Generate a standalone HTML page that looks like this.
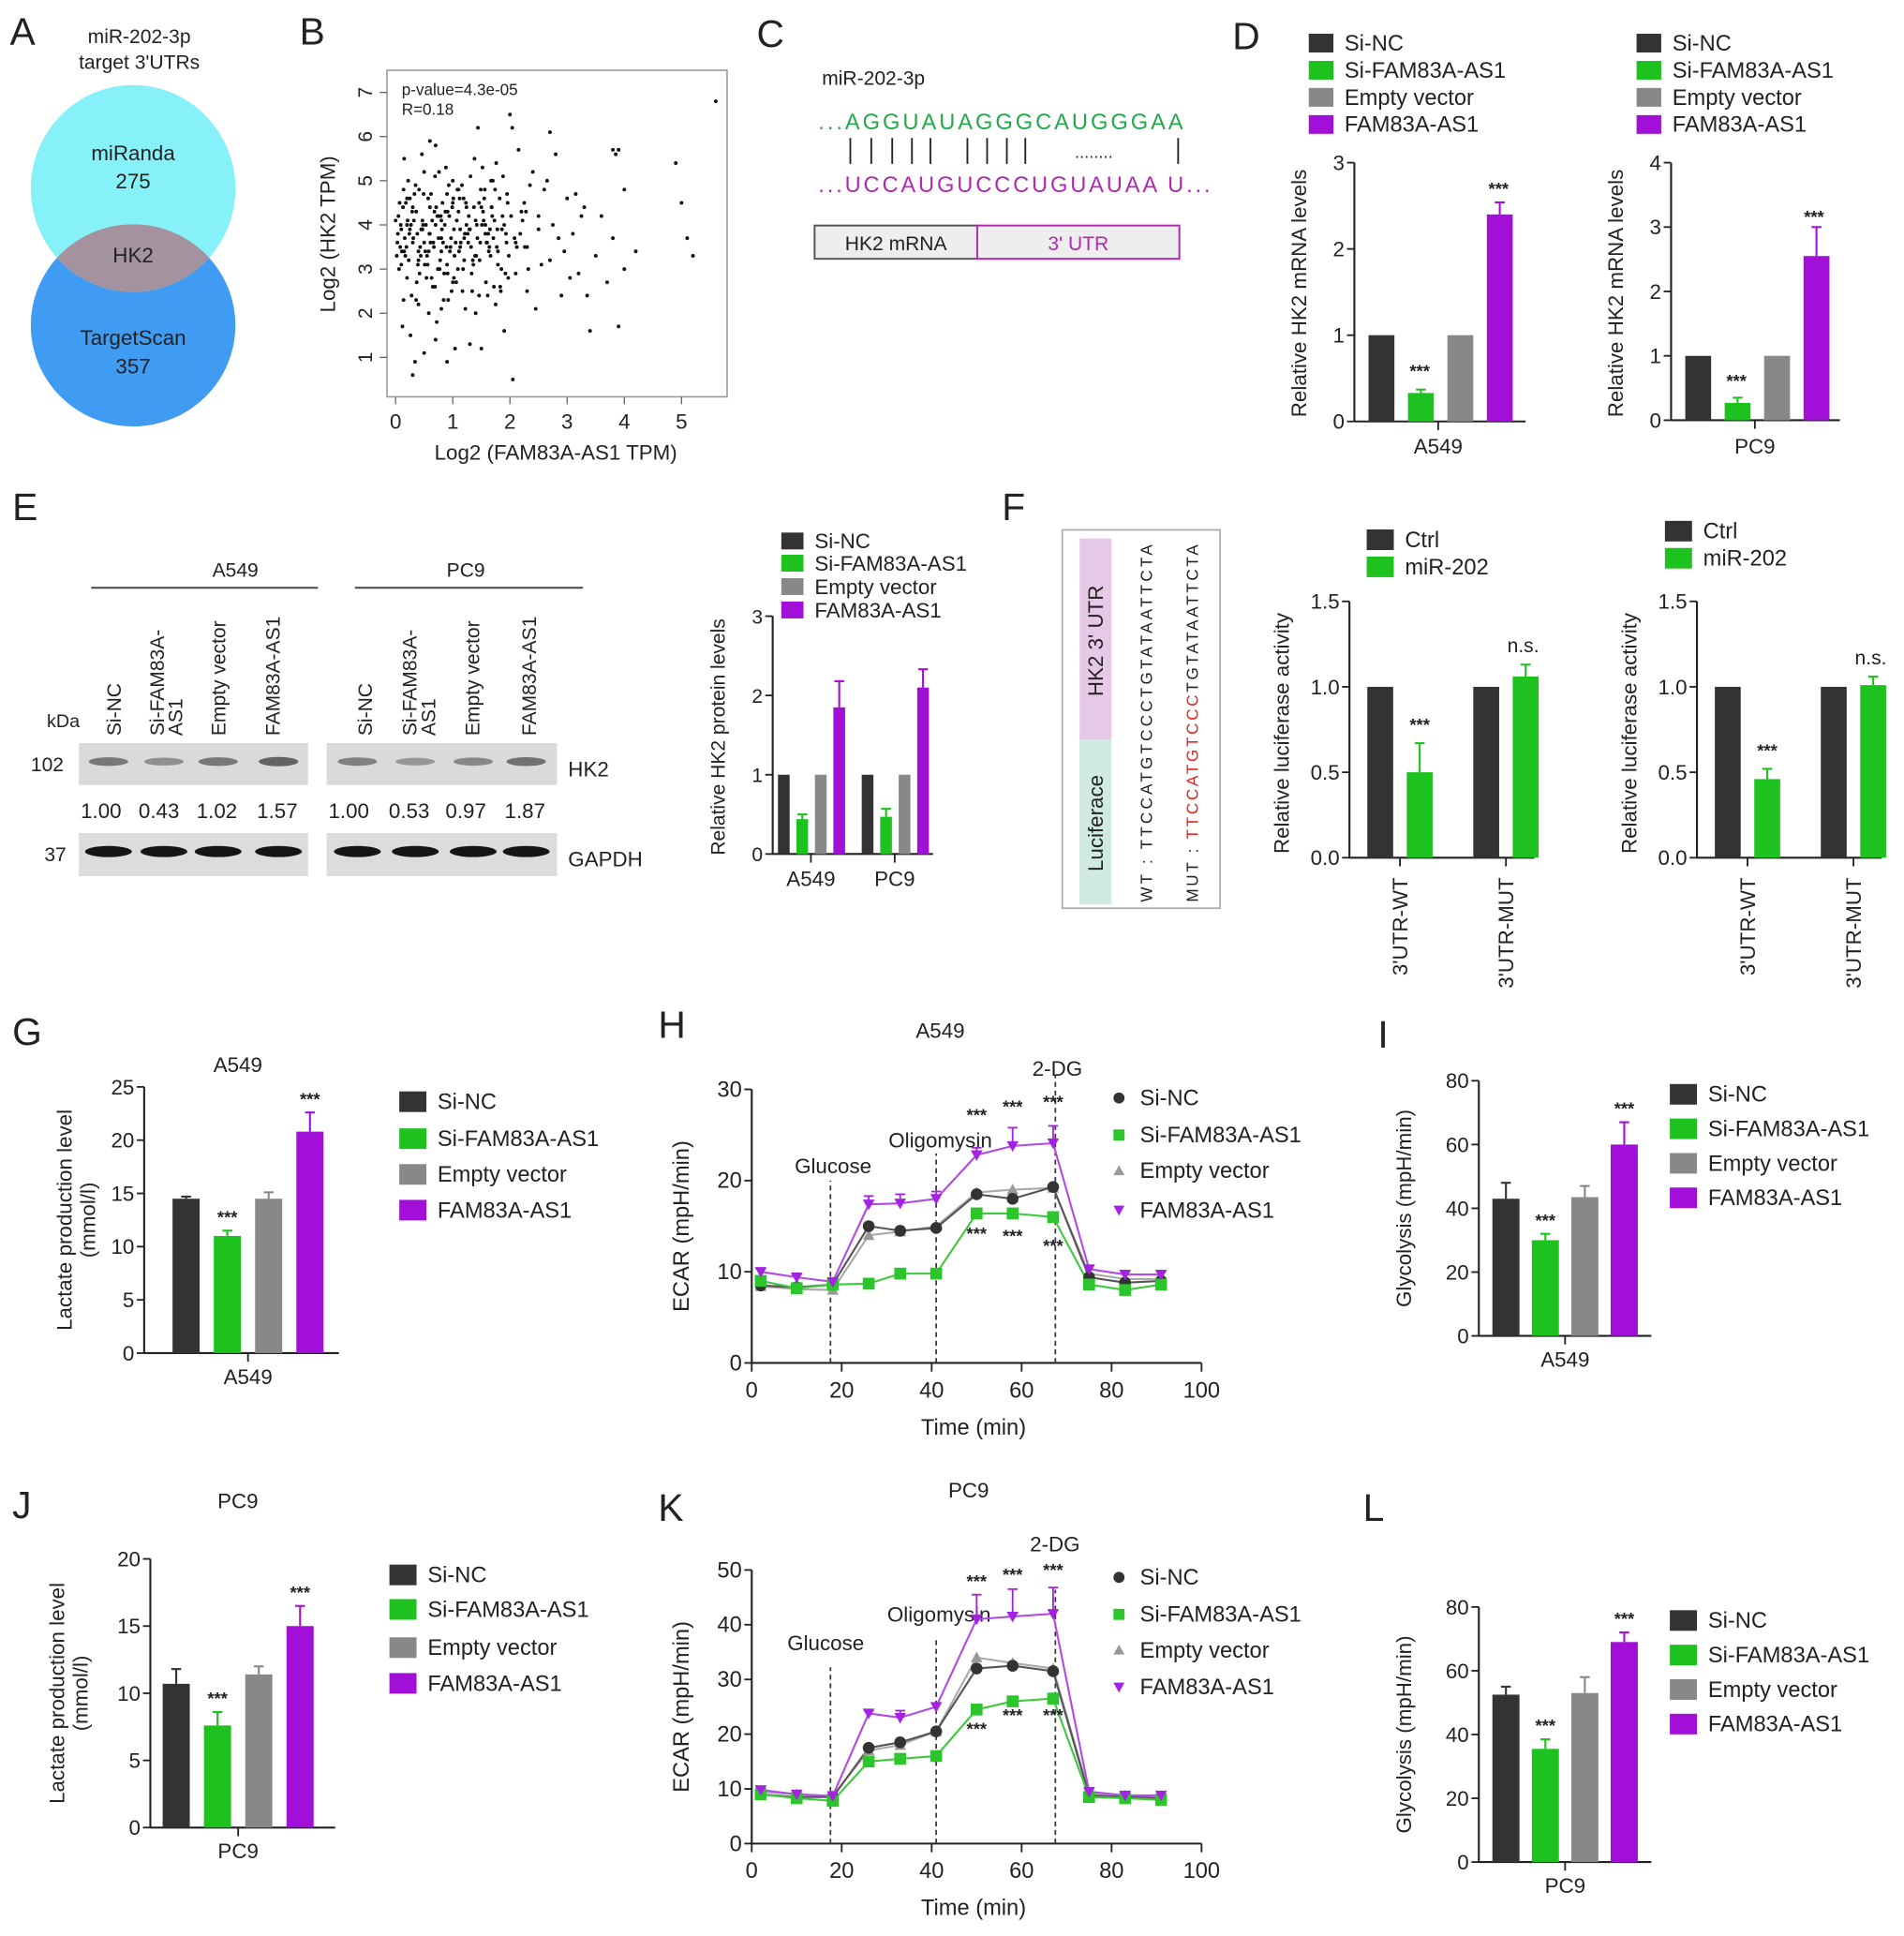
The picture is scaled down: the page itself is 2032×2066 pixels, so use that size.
<!DOCTYPE html>
<html><head><meta charset="utf-8">
<style>
html,body{margin:0;padding:0;background:#fff;}
svg{display:block;font-family:"Liberation Sans",Arial,sans-serif;}
text{fill:#222;}
</style></head>
<body>
<svg id="fig" width="2032" height="2066" viewBox="0 0 1545 1571" preserveAspectRatio="none" xmlns="http://www.w3.org/2000/svg">
<rect x="0" y="0" width="1545" height="1571" fill="#fff"/>

<g font-size="31">
<text x="8" y="36">A</text>
<text x="243" y="36">B</text>
<text x="614" y="38">C</text>
<text x="1000" y="40">D</text>
<text x="10" y="422">E</text>
<text x="813" y="422">F</text>
<text x="10" y="848">G</text>
<text x="534" y="842">H</text>
<text x="1118" y="850">I</text>
<text x="10" y="1232">J</text>
<text x="534" y="1234">K</text>
<text x="1106" y="1234">L</text>
</g>

<g>
<text x="113" y="35" font-size="16" text-anchor="middle">miR-202-3p</text>
<text x="113" y="56" font-size="16" text-anchor="middle">target 3'UTRs</text>
<ellipse cx="108" cy="264" rx="83" ry="82" fill="#3f9cf2"/>
<ellipse cx="108" cy="153" rx="83" ry="84" fill="#86f1f9"/>
<clipPath id="clipTop"><ellipse cx="108" cy="153" rx="83" ry="84"/></clipPath>
<ellipse cx="108" cy="264" rx="83" ry="82" fill="#a4939f" clip-path="url(#clipTop)"/>
<text x="108" y="130" font-size="17" text-anchor="middle">miRanda</text>
<text x="108" y="153" font-size="17" text-anchor="middle">275</text>
<text x="108" y="213" font-size="17" text-anchor="middle">HK2</text>
<text x="108" y="280" font-size="17" text-anchor="middle">TargetScan</text>
<text x="108" y="303" font-size="17" text-anchor="middle">357</text>
</g>

<g id="scatter">
<rect x="314" y="57" width="276" height="265" fill="none" stroke="#999" stroke-width="1.2"/>
<text x="326" y="77" font-size="13">p-value=4.3e-05</text>
<text x="326" y="93" font-size="13">R=0.18</text>
<text x="451" y="373" font-size="17" text-anchor="middle">Log2 (FAM83A-AS1 TPM)</text>
<text transform="translate(272,190) rotate(-90)" font-size="17" text-anchor="middle">Log2 (HK2 TPM)</text>
</g>

<g>
<text x="667" y="69" font-size="16">miR-202-3p</text>
<text x="664" y="105" font-size="18" style="fill:#22a84a" textLength="296">...AGGUAUAGGGCAUGGGAA</text>
<g stroke="#222" stroke-width="1.4">
<line x1="690" y1="112" x2="690" y2="133"/><line x1="707" y1="112" x2="707" y2="133"/><line x1="724" y1="112" x2="724" y2="133"/><line x1="740" y1="112" x2="740" y2="133"/><line x1="755" y1="112" x2="755" y2="133"/><line x1="785" y1="112" x2="785" y2="133"/><line x1="801" y1="112" x2="801" y2="133"/><line x1="817" y1="112" x2="817" y2="133"/><line x1="832" y1="112" x2="832" y2="133"/><line x1="956" y1="112" x2="956" y2="133"/>
</g>
<text x="872" y="128" font-size="14">........</text>
<text x="664" y="156" font-size="18" style="fill:#b02ab0" textLength="318">...UCCAUGUCCCUGUAUAA U...</text>
<rect x="661" y="183" width="132" height="27" fill="#eee" stroke="#555" stroke-width="1.5"/>
<rect x="793" y="183" width="164" height="27" fill="#eee" stroke="#b02ab0" stroke-width="1.5"/>
<text x="727" y="203" font-size="16" text-anchor="middle">HK2 mRNA</text>
<text x="875" y="203" font-size="16" text-anchor="middle" style="fill:#b02ab0">3' UTR</text>
</g>

<g>
<text x="191" y="468" font-size="16" text-anchor="middle">A549</text>
<line x1="74" y1="477" x2="258" y2="477" stroke="#444" stroke-width="1.5"/>
<text x="378" y="468" font-size="16" text-anchor="middle">PC9</text>
<line x1="288" y1="477" x2="473" y2="477" stroke="#444" stroke-width="1.5"/>
<text x="38" y="590" font-size="15">kDa</text>
<text x="25" y="626" font-size="16">102</text>
<text x="36" y="699" font-size="16">37</text>
<text x="461" y="630" font-size="17">HK2</text>
<text x="461" y="703" font-size="17">GAPDH</text>
<g id="lanes" font-size="15"></g>
<g id="blots"></g>
</g>

<g>
<rect x="862" y="430" width="128" height="307" fill="#fff" stroke="#aaa" stroke-width="1.3"/>
<rect x="876" y="437" width="26" height="163" fill="#e6c9e6"/>
<rect x="876" y="600" width="26" height="134" fill="#cfeadf"/>
<text transform="translate(895,520) rotate(-90)" font-size="17" text-anchor="middle">HK2 3' UTR</text>
<text transform="translate(895,668) rotate(-90)" font-size="17" text-anchor="middle">Luciferace</text>
<text transform="translate(935,732) rotate(-90)" font-size="13" textLength="290">WT :  TTCCATGTCCCTGTATAATTCTA</text>
<text transform="translate(972,732) rotate(-90)" font-size="13" textLength="290">MUT :  <tspan style="fill:#e8241c">TTCCATGTCCC</tspan>TGTATAATTCTA</text>
</g>

<g id="charts"></g>
</svg>

<script>
// ---------- DATA ----------
const scatterX = [0.05,0.1,0.15,0.2,0.25,0.3,0.35,0.4,0.45,0.5,0.55,0.6,0.65,0.7,0.75,0.8,0.85,0.9,0.95,1.0,
0.08,0.18,0.28,0.38,0.48,0.58,0.68,0.78,0.88,0.98,1.08,1.18,1.28,1.38,1.48,1.58,1.68,1.78,1.88,1.98,
0.12,0.22,0.32,0.42,0.52,0.62,0.72,0.82,0.92,1.02,1.12,1.22,1.32,1.42,1.52,1.62,1.72,1.82,1.92,2.02,
0.06,0.16,0.26,0.36,0.46,0.56,0.66,0.76,0.86,0.96,1.06,1.16,1.26,1.36,1.46,1.56,1.66,1.76,1.86,1.96,
2.1,2.2,2.3,2.4,2.5,2.6,2.7,2.8,2.9,3.0,3.1,3.2,3.3,3.4,3.5,3.6,3.7,3.8,3.9,4.0,
0.14,0.24,0.34,0.44,0.54,0.64,0.74,0.84,0.94,1.04,1.14,1.24,1.34,1.44,1.54,1.64,1.74,1.84,1.94,2.04,
0.3,0.5,0.7,0.9,1.1,1.3,1.5,1.7,1.9,2.1,2.3,2.5,2.7,0.2,0.4,0.6,0.8,1.0,1.2,1.4,
2.15,2.35,2.55,2.75,2.95,3.15,3.35,2.05,2.25,2.45,2.65,2.85,3.05,3.25,1.55,1.65,1.75,1.85,1.95,2.0,
3.8,3.85,4.0,4.2,4.9,5.0,5.1,5.2,5.6,3.9,0.0,0.02,
0.1,0.3,0.5,0.7,0.9,1.1,1.3,1.5,0.2,0.4,0.6,0.8,1.0,1.2,1.4,1.6,0.15,0.45,0.75,1.05,
0.04,0.13,0.23,0.33,0.43,0.53,0.63,0.73,0.83,0.93,1.03,1.13,1.23,1.33,1.43,1.53,1.63,1.73,1.83,1.93,
0.07,0.17,0.27,0.37,0.47,0.57,0.67,0.77,0.87,0.97,1.07,1.17,1.27,1.37,1.47,1.57,1.67,1.77,1.87,1.97,
0.11,0.21,0.31,0.41,0.51,0.61,0.71,0.81,0.91,1.01,1.11,1.21,1.31,1.41,1.51,1.61,1.71,2.12,2.22,2.32,
0.09,0.19,0.29,0.39,0.49,0.59,0.69,0.79,0.89,0.99,1.09,1.19,1.29,1.39,1.49,1.59,1.69,1.79,2.18,2.28,
0.03,0.14,0.25,0.36,0.47,0.58,0.69,0.8,0.91,1.02,1.13,1.24,1.35,1.46,1.57,1.68,1.79,1.9,2.08,2.26];
const scatterY = [4.2,3.1,5.5,2.8,4.6,3.6,4.9,2.2,3.9,5.2,3.3,4.4,2.6,5.8,3.7,4.1,2.9,4.7,3.4,5.0,
3.5,4.5,2.4,3.8,4.0,2.0,4.3,3.2,5.3,2.5,4.8,3.0,4.2,5.5,3.6,2.7,4.4,3.9,5.1,3.3,
1.7,5.0,4.1,2.9,3.4,4.7,1.8,4.5,2.3,3.9,4.6,2.1,3.5,4.0,5.3,3.8,2.6,4.6,2.9,4.2,
3.0,3.7,1.5,4.3,5.6,3.1,3.6,5.2,4.0,3.5,2.7,4.9,3.8,3.1,2.4,4.8,3.3,5.4,3.9,4.5,
3.6,4.3,2.5,5.2,3.9,4.8,3.2,5.6,2.4,4.6,3.8,2.9,4.4,1.6,3.3,4.2,2.7,3.7,5.7,3.0,
2.3,3.8,0.9,3.3,2.8,4.1,3.0,2.3,4.2,1.2,3.6,4.4,2.5,6.2,4.1,3.5,4.8,2.5,3.6,6.2,
0.6,1.1,1.4,0.9,4.8,1.3,1.2,5.0,1.6,2.9,3.5,4.2,6.1,4.0,3.4,5.9,2.1,2.7,3.2,2.0,
5.7,4.9,3.1,4.0,3.4,4.7,2.4,0.5,4.5,2.1,5.0,3.7,2.8,4.2,4.6,3.9,2.2,3.0,4.7,6.5,
5.7,5.6,4.8,3.4,5.4,4.5,3.7,3.3,6.8,1.7,4.1,3.3,
3.9,4.4,3.6,4.0,3.1,4.3,3.9,4.4,4.6,3.2,3.8,3.4,4.5,3.7,4.1,3.6,3.4,3.9,4.2,3.6,
3.8,4.4,3.2,4.7,3.5,4.0,2.8,4.2,3.6,4.9,3.3,3.9,4.5,2.9,3.7,4.3,3.4,4.1,2.6,3.8,
4.5,3.3,4.0,2.7,3.9,4.6,3.5,3.0,4.3,3.7,4.1,2.5,3.6,4.4,3.2,4.0,5.0,3.5,4.2,2.8,
3.4,4.1,3.7,4.8,3.1,3.6,4.4,3.9,2.9,4.6,3.4,3.8,5.1,3.3,4.0,2.4,3.7,3.5,4.1,3.0,
4.0,3.5,4.3,3.1,4.7,3.8,2.6,4.2,3.5,4.4,3.0,4.6,3.9,3.3,4.8,3.6,4.2,3.4,3.8,4.3,
3.6,4.8,3.9,2.3,4.1,3.4,5.1,3.7,4.3,2.8,3.5,4.0,3.2,4.5,3.8,4.4,3.1,4.0,3.7,3.5];
const scatterXTicks = [0,1,2,3,4,5];
const scatterYTicks = [1,2,3,4,5,6,7];

const groupNames = ["Si-NC","Si-FAM83A-AS1","Empty vector","FAM83A-AS1"];
const dA549 = [1, 0.33, 1, 2.4];
const dA549Err = [0, 0.04, 0, 0.14];
const dPC9 = [1, 0.27, 1, 2.55];
const dPC9Err = [0, 0.08, 0, 0.45];
const dTicksA = [0,1,2,3];
const dTicksP = [0,1,2,3,4];
const eCells = ["A549","PC9"];
const eA549 = [1, 0.44, 1, 1.85];
const eA549Err = [0, 0.06, 0, 0.33];
const ePC9 = [1, 0.47, 1, 2.1];
const ePC9Err = [0, 0.1, 0, 0.23];
const eTicks = [0,1,2,3];
const blotRatiosA = ["1.00","0.43","1.02","1.57"];
const blotRatiosP = ["1.00","0.53","0.97","1.87"];
const fConstructs = ["3'UTR-WT","3'UTR-MUT"];
const fSeries = ["Ctrl","miR-202"];
const fLeftCtrl = [1, 1];
const fLeftMir = [0.5, 1.06];
const fLeftMirErr = [0.17, 0.07];
const fRightCtrl = [1, 1];
const fRightMir = [0.46, 1.01];
const fRightMirErr = [0.06, 0.05];
const fTicks = [0, 0.5, 1.0, 1.5];
const gA549 = [14.5, 11, 14.5, 20.8];
const gA549Err = [0.2, 0.5, 0.6, 1.8];
const gTicks = [0,5,10,15,20,25];
const jPC9 = [10.7, 7.6, 11.4, 15];
const jPC9Err = [1.1, 1.0, 0.6, 1.5];
const jTicks = [0,5,10,15,20];
const iA549 = [43, 30, 43.5, 60];
const iA549Err = [5, 2, 3.5, 7];
const lPC9 = [52.5, 35.5, 53, 69];
const lPC9Err = [2.5, 3, 5, 3];
const glyTicks = [0,20,40,60,80];
const timePoints = [2,10,18,26,33,41,50,58,67,75,83,91];
const timeTicks = [0,20,40,60,80,100];
const hSiNC = [8.5,8.3,8.6,15,14.5,14.8,18.5,18,19.3,9.4,8.8,9];
const hSiFAM = [9,8.2,8.6,8.7,9.8,9.8,16.4,16.4,16,8.6,8,8.6];
const hEmpty = [8.4,8.1,8,14,14.4,15,18.7,19,19.2,9.8,9.2,9.2];
const hFAM = [10,9.4,8.9,17.4,17.5,18,22.8,23.8,24.1,10.3,9.7,9.7];
const hFAMErr = [0.3,0.3,0.3,0.9,1,0.8,0.8,2,1.9,0.3,0.3,0.3];
const hTicks = [0,10,20,30];
const kSiNC = [9,8.5,8.5,17.5,18.5,20.5,32,32.5,31.5,8.8,8.5,8.3];
const kSiFAM = [9,8.3,7.8,15,15.5,16,24.5,26,26.5,8.5,8.3,8];
const kEmpty = [9.5,9,8.7,17,18,20.5,34,33,32,9.2,8.7,8.5];
const kFAM = [9.8,9,8.7,23.8,23,25,41,41.5,42,9.5,8.8,8.8];
const kFAMErr = [0.4,0.4,0.3,0.5,1.3,0.6,4.5,5,4.8,0.4,0.4,0.4];
const kTicks = [0,10,20,30,40,50];
const injections = [17.5,41,67.5];

// ---------- HELPERS ----------
const NS = "http://www.w3.org/2000/svg";
const COLORS = ["#333333","#1ec21e","#888888","#a20fd9"];
function el(tag, attrs, parent, name) {
  const e = document.createElementNS(NS, tag);
  for (const k in attrs) e.setAttribute(k, attrs[k]);
  
  
  parent.appendChild(e);
  return e;
}
function txt(s, attrs, parent, name) {
  const t = el('text', attrs, parent, name);
  t.textContent = s;
  return t;
}
const root = document.getElementById('charts');
function linScale(d0, d1, r0, r1) { return v => r0 + (v - d0) * (r1 - r0) / (d1 - d0); }

function yAxis(g, ax, yS, ticks, yBot, yTop, fmt, fs) {
  el('line', {x1:ax, y1:yBot, x2:ax, y2:yTop, stroke:'#222', 'stroke-width':1.6}, g, 'y-axis-line');
  ticks.forEach(t => {
    const y = yS(t);
    el('line', {x1:ax-6, y1:y, x2:ax, y2:y, stroke:'#222', 'stroke-width':1.4}, g, 'y-tick');
    txt(fmt ? fmt(t) : String(t), {x:ax-8, y:y+6, 'font-size':fs||17, 'text-anchor':'end'}, g, 'y-tick-label');
  });
}
function bar(g, cx, w, v, err, color, yS, name) {
  const y0 = yS(0), y = yS(v);
  el('rect', {x:cx-w/2, y:y, width:w, height:y0-y, fill:color}, g, name);
  if (err > 0) {
    el('line', {x1:cx, y1:y, x2:cx, y2:yS(v+err), stroke:color, 'stroke-width':1.6}, g, name+'-error');
    el('line', {x1:cx-4, y1:yS(v+err), x2:cx+4, y2:yS(v+err), stroke:color, 'stroke-width':1.6}, g, name+'-error-cap');
  }
}
function legend(g, x, ys, labels, colors, fs, sq, markers) {
  labels.forEach((l, i) => {
    if (markers) drawMarker(g, markers[i], x, ys[i], colors[i], 4.5, 'legend-marker');
    else el('rect', {x:x-sq/2, y:ys[i]-sq*0.38, width:sq, height:sq*0.76, fill:colors[i]}, g, 'legend-swatch');
    txt(l, {x:x+(markers?17:sq/2+9), y:ys[i]+6, 'font-size':fs}, g, 'legend-entry');
  });
}
function stars(g, x, y, s) { txt(s||'***', {x:x, y:y, 'font-size':14, 'text-anchor':'middle', 'font-weight':'bold'}, g, 'significance-mark'); }

// ---------- PANEL B ----------
(function(){
  const g = document.getElementById('scatter');
  const xS = linScale(0, 5, 321, 553), yS = linScale(1, 7, 290, 75);
  scatterXTicks.forEach(t => {
    el('line', {x1:xS(t), y1:322, x2:xS(t), y2:328, stroke:'#666'}, g, 'x-tick');
    txt(String(t), {x:xS(t), y:348, 'font-size':17, 'text-anchor':'middle'}, g, 'x-tick-label');
  });
  scatterYTicks.forEach(t => {
    el('line', {x1:308, y1:yS(t), x2:314, y2:yS(t), stroke:'#666'}, g, 'y-tick');
    txt(String(t), {transform:`translate(302,${yS(t)}) rotate(-90)`, 'font-size':16, 'text-anchor':'middle'}, g, 'y-tick-label');
  });
  scatterX.forEach((v, i) => {
    el('circle', {cx:xS(v), cy:yS(scatterY[i]), r:1.5, fill:'#111'}, g, 'scatter-point');
  });
})();

// ---------- PANEL D ----------
(function(){
  const g = el('g', {}, root, 'panel-d-charts');
  legend(g, 1072, [35,57,79,101], groupNames, COLORS, 18, 20);
  legend(g, 1338, [35,57,79,101], groupNames, COLORS, 18, 20);
  let yS = linScale(0, 3, 342, 132);
  yAxis(g, 1099, yS, dTicksA, 342, 132, null, 17);
  el('line', {x1:1099, y1:342, x2:1238, y2:342, stroke:'#222', 'stroke-width':1.6}, g, 'x-axis-line');
  el('line', {x1:1167, y1:342, x2:1167, y2:349, stroke:'#222', 'stroke-width':1.4}, g, 'x-tick');
  dA549.forEach((v,i) => bar(g, 1121+i*32, 21, v, dA549Err[i], COLORS[i], yS, 'bar-a549-'+i));
  stars(g, 1152, 306); stars(g, 1216, 158);
  txt('A549', {x:1167, y:368, 'font-size':17, 'text-anchor':'middle'}, g, 'x-category-label');
  txt('Relative HK2 mRNA levels', {transform:'translate(1060,238) rotate(-90)', 'font-size':17, 'text-anchor':'middle'}, g, 'y-axis-title');
  yS = linScale(0, 4, 341, 132);
  yAxis(g, 1356, yS, dTicksP, 341, 132, null, 17);
  el('line', {x1:1356, y1:341, x2:1493, y2:341, stroke:'#222', 'stroke-width':1.6}, g, 'x-axis-line');
  el('line', {x1:1424, y1:341, x2:1424, y2:348, stroke:'#222', 'stroke-width':1.4}, g, 'x-tick');
  dPC9.forEach((v,i) => bar(g, 1378+i*32, 21, v, dPC9Err[i], COLORS[i], yS, 'bar-pc9-'+i));
  stars(g, 1409, 314); stars(g, 1472, 181);
  txt('PC9', {x:1424, y:368, 'font-size':17, 'text-anchor':'middle'}, g, 'x-category-label');
  txt('Relative HK2 mRNA levels', {transform:'translate(1317,238) rotate(-90)', 'font-size':17, 'text-anchor':'middle'}, g, 'y-axis-title');
})();

// ---------- PANEL E ----------
(function(){
  const lanes = document.getElementById('lanes');
  const lx = [[93],[128,143],[178],[222],[297],[333,348],[384],[430]];
  const ltxt = [["Si-NC"],["Si-FAM83A-","AS1"],["Empty vector"],["FAM83A-AS1"],["Si-NC"],["Si-FAM83A-","AS1"],["Empty vector"],["FAM83A-AS1"]];
  lx.forEach((xs,i) => xs.forEach((x,j) => {
    txt(ltxt[i][j], {transform:`translate(${x+5},597) rotate(-90)`, 'font-size':16}, lanes, 'lane-label');
  }));
  const b = document.getElementById('blots');
  [[64,250],[265,452]].forEach((r,k) => {
    el('rect', {x:r[0], y:603, width:r[1]-r[0], height:34, fill:'#dadada'}, b, 'hk2-blot-strip');
    el('rect', {x:r[0], y:676, width:r[1]-r[0], height:35, fill:'#dcdcdc'}, b, 'gapdh-blot-strip');
  });
  const bandX = [88,133,177,226,290,337,384,427];
  const hkStrength = [0.5,0.35,0.5,0.65,0.45,0.3,0.4,0.55];
  bandX.forEach((x,i) => {
    el('ellipse', {cx:x, cy:618, rx:16, ry:2.5+hkStrength[i]*2, fill:'#444', opacity:hkStrength[i]+0.15}, b, 'hk2-band');
    el('ellipse', {cx:x, cy:691, rx:19, ry:4.5, fill:'#151515'}, b, 'gapdh-band');
  });
  blotRatiosA.concat(blotRatiosP).forEach((r,i) => {
    txt(r, {x:[82,129,176,225,283,332,378,426][i], y:664, 'font-size':17, 'text-anchor':'middle'}, b, 'band-ratio');
  });
  const g = el('g', {}, root, 'panel-e-chart');
  legend(g, 643, [439,457,476,495], groupNames, COLORS, 17, 18);
  const yS = linScale(0, 3, 693, 500);
  yAxis(g, 627, yS, eTicks, 693, 500, null, 16);
  el('line', {x1:627, y1:693, x2:757, y2:693, stroke:'#222', 'stroke-width':1.6}, g, 'x-axis-line');
  [eA549, ePC9].forEach((vals, gi) => {
    const errs = gi ? ePC9Err : eA549Err;
    const base = gi ? 704 : 636;
    vals.forEach((v,i) => bar(g, base+i*15, 9.5, v, errs[i], COLORS[i], yS, 'bar-'+eCells[gi]+'-'+i));
    el('line', {x1:base+22, y1:693, x2:base+22, y2:700, stroke:'#222', 'stroke-width':1.4}, g, 'x-tick');
    txt(eCells[gi], {x:base+22, y:719, 'font-size':17, 'text-anchor':'middle'}, g, 'x-category-label');
  });
  txt('Relative HK2 protein levels', {transform:'translate(588,598) rotate(-90)', 'font-size':16, 'text-anchor':'middle'}, g, 'y-axis-title');
})();

// ---------- PANEL F ----------
function luciferase(ax, ctrl, mir, err, legendX, legendY, name) {
  const g = el('g', {}, root, name);
  legend(g, legendX, legendY, fSeries, [COLORS[0], COLORS[1]], 18, 22);
  const yS = linScale(0, 1.5, 696, 488);
  yAxis(g, ax, yS, fTicks, 696, 488, t => t.toFixed(1), 17);
  el('line', {x1:ax, y1:696, x2:ax+150, y2:696, stroke:'#222', 'stroke-width':1.6}, g, 'x-axis-line');
  fConstructs.forEach((c, ci) => {
    const base = ax + 25 + ci*86;
    bar(g, base, 21, ctrl[ci], 0, COLORS[0], yS, 'bar-ctrl-'+ci);
    bar(g, base+32, 21, mir[ci], err[ci], COLORS[1], yS, 'bar-mir202-'+ci);
    el('line', {x1:base+16, y1:696, x2:base+16, y2:703, stroke:'#222', 'stroke-width':1.4}, g, 'x-tick');
    txt(c, {transform:`translate(${base+22},712) rotate(-90)`, 'font-size':17, 'text-anchor':'end'}, g, 'x-category-label');
  });
  stars(g, ax+57, yS(mir[0]+err[0])-10);
  txt('n.s.', {x:ax+141, y:yS(mir[1]+err[1])-10, 'font-size':16, 'text-anchor':'middle'}, g, 'ns-mark');
  txt('Relative luciferase activity', {transform:`translate(${ax-49},595) rotate(-90)`, 'font-size':17, 'text-anchor':'middle'}, g, 'y-axis-title');
}
luciferase(1095, fLeftCtrl, fLeftMir, fLeftMirErr, 1120, [438,460], 'panel-f-left-chart');
luciferase(1377, fRightCtrl, fRightMir, fRightMirErr, 1362, [431,453], 'panel-f-right-chart');

// ---------- BAR PANELS ----------
function barPanel(opt) {
  const g = el('g', {}, root, opt.name);
  if (opt.title) txt(opt.title, {x:opt.titleX, y:opt.titleY, 'font-size':17, 'text-anchor':'middle'}, g, 'chart-title');
  const yS = linScale(0, opt.max, opt.y0, opt.y1);
  yAxis(g, opt.ax, yS, opt.ticks, opt.y0, opt.y1, null, 17);
  el('line', {x1:opt.ax, y1:opt.y0, x2:opt.ax+opt.len, y2:opt.y0, stroke:'#222', 'stroke-width':1.6}, g, 'x-axis-line');
  opt.vals.forEach((v,i) => bar(g, opt.ax+opt.off+i*opt.sp, 22, v, opt.errs[i], COLORS[i], yS, 'bar-'+i));
  const mid = opt.ax+opt.off+1.5*opt.sp;
  el('line', {x1:mid, y1:opt.y0, x2:mid, y2:opt.y0+7, stroke:'#222', 'stroke-width':1.4}, g, 'x-tick');
  txt(opt.cat, {x:mid, y:opt.y0+25, 'font-size':17, 'text-anchor':'middle'}, g, 'x-category-label');
  stars(g, opt.ax+opt.off+opt.sp, yS(opt.vals[1]+opt.errs[1])-6);
  stars(g, opt.ax+opt.off+3*opt.sp, yS(opt.vals[3]+opt.errs[3])-6);
  opt.ytitle.forEach((t,k) => txt(t, {transform:`translate(${opt.ytx+k*19},${(opt.y0+opt.y1)/2}) rotate(-90)`, 'font-size':17, 'text-anchor':'middle'}, g, 'y-axis-title'));
  legend(g, opt.lx, opt.ly, groupNames, COLORS, 18, 22);
}
barPanel({name:'panel-g-chart', title:'A549', titleX:193, titleY:870, ax:117, y0:1098, y1:882, max:25, ticks:gTicks, len:158, off:34, sp:33.5, vals:gA549, errs:gA549Err, cat:'A549', ytitle:['Lactate production level','(mmol/l)'], ytx:58, lx:335, ly:[894,924,953,982]});
barPanel({name:'panel-j-chart', title:'PC9', titleX:193, titleY:1224, ax:122, y0:1483, y1:1265, max:20, ticks:jTicks, len:150, off:21, sp:33.5, vals:jPC9, errs:jPC9Err, cat:'PC9', ytitle:['Lactate production level','(mmol/l)'], ytx:52, lx:327, ly:[1278,1306,1337,1366]});
barPanel({name:'panel-i-chart', ax:1200, y0:1084, y1:877, max:80, ticks:glyTicks, len:140, off:22, sp:32, vals:iA549, errs:iA549Err, cat:'A549', ytitle:['Glycolysis (mpH/min)'], ytx:1145, lx:1366, ly:[888,916,944,972]});
barPanel({name:'panel-l-chart', ax:1200, y0:1511, y1:1304, max:80, ticks:glyTicks, len:140, off:22, sp:32, vals:lPC9, errs:lPC9Err, cat:'PC9', ytitle:['Glycolysis (mpH/min)'], ytx:1145, lx:1366, ly:[1315,1343,1371,1399]});

// ---------- LINE PANELS ----------
function drawMarker(g, type, x, y, color, r, name) {
  if (type === 'circle') return el('circle', {cx:x, cy:y, r:r, fill:color}, g, name);
  if (type === 'square') return el('rect', {x:x-r, y:y-r, width:2*r, height:2*r, fill:color}, g, name);
  if (type === 'up') return el('polygon', {points:`${x},${y-r} ${x-r},${y+r*0.8} ${x+r},${y+r*0.8}`, fill:color}, g, name);
  return el('polygon', {points:`${x},${y+r} ${x-r},${y-r*0.8} ${x+r},${y-r*0.8}`, fill:color}, g, name);
}
function ecarPanel(opt) {
  const g = el('g', {}, root, opt.name);
  txt(opt.title, {x:opt.titleX, y:opt.titleY, 'font-size':17, 'text-anchor':'middle'}, g, 'chart-title');
  const xS = linScale(0, 100, 610, 975), yS = linScale(0, opt.max, opt.y0, opt.y1);
  yAxis(g, 610, yS, opt.ticks, opt.y0, opt.y1, null, 18);
  el('line', {x1:610, y1:opt.y0, x2:975, y2:opt.y0, stroke:'#222', 'stroke-width':1.6}, g, 'x-axis-line');
  timeTicks.forEach(t => {
    el('line', {x1:xS(t), y1:opt.y0, x2:xS(t), y2:opt.y0+7, stroke:'#222', 'stroke-width':1.4}, g, 'x-tick');
    txt(String(t), {x:xS(t), y:opt.y0+28, 'font-size':18, 'text-anchor':'middle'}, g, 'x-tick-label');
  });
  txt('Time (min)', {x:790, y:opt.y0+58, 'font-size':18, 'text-anchor':'middle'}, g, 'x-axis-title');
  txt('ECAR (mpH/min)', {transform:`translate(559,${(opt.y0+opt.y1)/2}) rotate(-90)`, 'font-size':18, 'text-anchor':'middle'}, g, 'y-axis-title');
  injections.forEach((t,i) => {
    el('line', {x1:xS(t), y1:opt.y0, x2:xS(t), y2:opt.injTop[i], stroke:'#333', 'stroke-width':1.3, 'stroke-dasharray':'4,3'}, g, 'injection-line');
  });
  txt('Glucose', {x:opt.labPos[0][0], y:opt.labPos[0][1], 'font-size':17, 'text-anchor':'middle'}, g, 'glucose-label');
  txt('Oligomysin', {x:opt.labPos[1][0], y:opt.labPos[1][1], 'font-size':17, 'text-anchor':'middle'}, g, 'oligomycin-label');
  txt('2-DG', {x:opt.labPos[2][0], y:opt.labPos[2][1], 'font-size':17, 'text-anchor':'middle'}, g, 'two-dg-label');
  const series = [opt.siNC, opt.siFAM, opt.empty, opt.fam];
  const mk = ['circle','square','up','down'];
  const cols = ['#333333','#2cc52c','#999999','#a423e0'];
  const lineCols = ['#555555','#3ec83e','#aaaaaa','#b24ae6'];
  [2,0,1,3].forEach(si => {
    const pts = series[si].map((v,i) => `${xS(timePoints[i])},${yS(v)}`).join(' ');
    el('polyline', {points:pts, fill:'none', stroke:lineCols[si], 'stroke-width':1.6}, g, 'series-line-'+si);
  });
  opt.fam.forEach((v,i) => {
    const x = xS(timePoints[i]);
    el('line', {x1:x, y1:yS(v), x2:x, y2:yS(v+opt.famErr[i]), stroke:cols[3], 'stroke-width':1.4}, g, 'error-bar');
    el('line', {x1:x-4, y1:yS(v+opt.famErr[i]), x2:x+4, y2:yS(v+opt.famErr[i]), stroke:cols[3], 'stroke-width':1.4}, g, 'error-cap');
  });
  [2,0,1,3].forEach(si => series[si].forEach((v,i) => {
    drawMarker(g, mk[si], xS(timePoints[i]), yS(v), cols[si], 4.8, 'point-series-'+si);
  }));
  [6,7,8].forEach(i => {
    stars(g, xS(timePoints[i]), opt.starTop[i-6]);
    stars(g, xS(timePoints[i]), opt.starBot[i-6]);
  });
  legend(g, opt.lx, opt.ly, groupNames, cols, 18, 0, mk);
}
ecarPanel({name:'panel-h-chart', title:'A549', titleX:763, titleY:842, y0:1106, y1:884, max:30, ticks:hTicks,
  siNC:hSiNC, siFAM:hSiFAM, empty:hEmpty, fam:hFAM, famErr:hFAMErr, injTop:[958,936,872],
  labPos:[[676,952],[763,931],[858,873]], starTop:[910,903,899], starBot:[1006,1008,1016],
  lx:908, ly:[891,921,950,982]});
ecarPanel({name:'panel-k-chart', title:'PC9', titleX:786, titleY:1215, y0:1496, y1:1274, max:50, ticks:kTicks,
  siNC:kSiNC, siFAM:kSiFAM, empty:kEmpty, fam:kFAM, famErr:kFAMErr, injTop:[1353,1330,1290],
  labPos:[[670,1339],[762,1316],[856,1259]], starTop:[1288,1283,1279], starBot:[1408,1397,1397],
  lx:908, ly:[1280,1310,1339,1369]});
</script>
</body></html>
